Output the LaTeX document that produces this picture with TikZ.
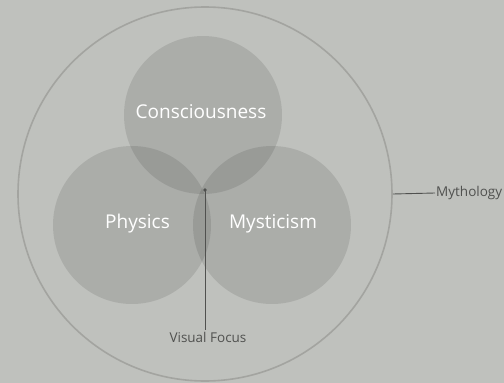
\documentclass[tikz,border=0pt]{standalone}
\usepackage{fontspec}
\setmainfont{Open Sans}
\definecolor{bg}{RGB}{191,193,189}
\definecolor{ring}{RGB}{163,164,160}
\definecolor{ink}{RGB}{80,81,79}
\begin{document}
\begin{tikzpicture}[x=1pt,y=-1pt,
  venn/.style={circle,fill=black,fill opacity=0.1,draw=none,minimum size=158pt,inner sep=0pt},
  lbl/.style={text=white,font=\fontsize{19}{22}\selectfont},
  note/.style={text=ink,font=\fontsize{13.5}{16}\selectfont}]
\fill[bg] (0,0) rectangle (504,383);
\useasboundingbox (0,0) rectangle (504,383);
\node[circle,draw=ring,line width=1.6pt,minimum size=374pt,inner sep=0pt] (outer) at (205,194) {};
\node[venn] (c) at (203,115) {};
\node[venn] (p) at (132,225) {};
\node[venn] (m) at (272,225) {};
\node[lbl] (ct) at (201,112) {Consciousness};
\node[lbl] (pt) at (137.5,224) {Physics};
\node[lbl] (mt) at (273,224) {Mysticism};
\coordinate (focus) at (205,190);
\fill[ink] (focus) circle (1.8pt);
\node[note,anchor=north,inner sep=2pt] (vf) at (208,330) {Visual Focus};
\draw[ink,line width=0.9pt] (focus) -- (focus |- vf.north);
\node[note,anchor=west,inner sep=1pt] (my) at (435,193) {Mythology};
\draw[ink,line width=0.9pt] (outer.east) -- (my.west);
\end{tikzpicture}
\end{document}
